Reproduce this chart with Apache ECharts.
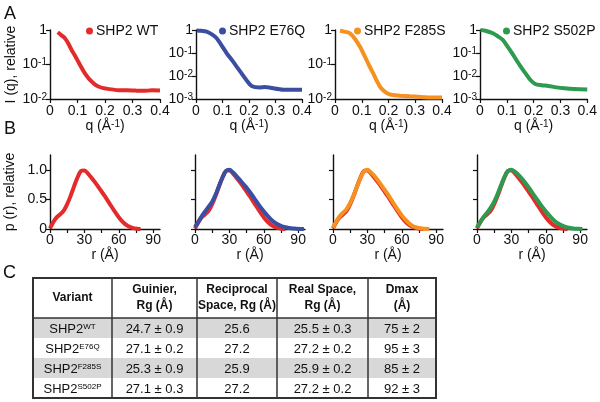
<!DOCTYPE html>
<html><head><meta charset="utf-8">
<script src="https://cdn.jsdelivr.net/npm/echarts@6/dist/echarts.min.js"></script>
<style>html,body{margin:0;padding:0;background:#fff}#c{width:600px;height:402px}</style>
</head><body><div id="c"></div>
<script>
// ---------- DATA ----------
const variantNames = ['SHP2 WT', 'SHP2 E76Q', 'SHP2 F285S', 'SHP2 S502P'];
const colors = ['#e42b2b', '#3b4ea2', '#f5911e', '#2d9a4f'];

// Panel A: scattering I(q), relative
const qWT = [0.028,0.04,0.055,0.067,0.079,0.091,0.103,0.115,0.127,0.14,0.152,0.164,0.176,0.19,0.205,0.224,0.25,0.28,0.31,0.34,0.37,0.40];
const iWT = [0.86,0.72,0.57,0.40,0.26,0.18,0.12,0.08,0.055,0.04,0.032,0.026,0.023,0.021,0.020,0.019,0.018,0.018,0.0175,0.0172,0.0178,0.0175];
const qE76Q = [0.003,0.02,0.04,0.06,0.078,0.097,0.116,0.135,0.154,0.172,0.19,0.21,0.24,0.26,0.28,0.31,0.33,0.36,0.40];
const iE76Q = [0.95,0.92,0.85,0.65,0.44,0.21,0.097,0.05,0.025,0.013,0.0067,0.0037,0.0032,0.0033,0.0031,0.0027,0.0025,0.0025,0.0025];
const qF285S = [0.019,0.035,0.056,0.075,0.093,0.106,0.118,0.13,0.143,0.155,0.168,0.18,0.193,0.215,0.243,0.28,0.32,0.36,0.40];
const iF285S = [0.95,0.9,0.8,0.55,0.33,0.21,0.135,0.086,0.055,0.035,0.023,0.018,0.015,0.013,0.0125,0.012,0.0115,0.011,0.011];
const qS502P = [0.002,0.02,0.048,0.067,0.085,0.103,0.12,0.138,0.157,0.172,0.188,0.206,0.23,0.255,0.285,0.315,0.35,0.40];
const iS502P = [1.0,0.93,0.72,0.53,0.37,0.19,0.097,0.045,0.021,0.012,0.0067,0.0045,0.004,0.0037,0.0032,0.0029,0.0027,0.0026];
const aYMin = [0.01, 0.001, 0.01, 0.001];
const qTicks = [0, 0.1, 0.2, 0.3, 0.4];

// Panel B: p(r), relative
const rWT = [0,3,6,9,12,15,18,21,24,27,30,33,36,40,44,48,52,56,60,64,68,72,76,79];
const pWT = [0.01,0.12,0.20,0.25,0.31,0.42,0.56,0.72,0.87,0.98,0.99,0.94,0.87,0.77,0.66,0.55,0.43,0.31,0.20,0.11,0.05,0.02,0.005,0];
const rE76Q = [0,3,6,9,12,15,18,21,24,27,30,33,36,40,44,48,52,56,60,64,68,72,76,80,84,88,92,95];
const pE76Q = [0.03,0.12,0.22,0.30,0.38,0.46,0.58,0.73,0.87,0.98,1.0,0.96,0.90,0.81,0.72,0.62,0.51,0.40,0.30,0.21,0.13,0.08,0.045,0.025,0.012,0.006,0.002,0];
const rF285S = [0,3,6,9,12,15,18,21,24,27,30,33,36,40,44,48,52,56,60,64,68,72,76,80,84];
const pF285S = [0.02,0.13,0.22,0.28,0.34,0.44,0.57,0.72,0.86,0.97,1.0,0.96,0.90,0.80,0.69,0.58,0.46,0.34,0.23,0.14,0.07,0.03,0.012,0.004,0];
const rS502P = [0,3,6,9,12,15,18,21,24,27,30,33,36,40,44,48,52,56,60,64,68,72,76,80,84,88,92];
const pS502P = [0.03,0.12,0.21,0.28,0.36,0.46,0.59,0.74,0.88,0.98,1.0,0.97,0.92,0.83,0.73,0.62,0.51,0.40,0.30,0.21,0.13,0.08,0.045,0.022,0.01,0.004,0];
const rTicks = [0, 15, 30, 45, 60, 75, 90];
const rLabels = [0, 30, 60, 90];
const pLabels = [0, 0.5, 1.0];

// Panel C: table
const tableHeaders = ['Variant', 'Guinier,\nRg (Å)', 'Reciprocal\nSpace, Rg (Å)', 'Real Space,\nRg (Å)', 'Dmax\n(Å)'];
const variantBase = ['SHP2', 'SHP2', 'SHP2', 'SHP2'];
const variantSup = ['WT', 'E76Q', 'F285S', 'S502P'];
const guinierRg = ['24.7 ± 0.9', '27.1 ± 0.2', '25.3 ± 0.9', '27.1 ± 0.3'];
const reciprocalRg = ['25.6', '27.2', '25.9', '27.2'];
const realSpaceRg = ['25.5 ± 0.3', '27.2 ± 0.2', '25.9 ± 0.2', '27.2 ± 0.2'];
const dmax = ['75 ± 2', '95 ± 3', '85 ± 2', '92 ± 3'];

// ---------- BUILD ----------
const FONT = 'Arial, "Liberation Sans", sans-serif';
const zip = (a, b) => a.map((v, i) => [v, b[i]]);
const aQ = [qWT, qE76Q, qF285S, qS502P];
const aI = [iWT, iE76Q, iF285S, iS502P];
const bR = [rWT, rE76Q, rF285S, rS502P];
const bP = [pWT, pE76Q, pF285S, pS502P];

const aLeft = [50, 196, 335, 480], aWidth = [110, 106, 107, 110];
const bLeft = [50, 195, 333, 477], bWidth = [110, 110, 110, 110];
const legendLeft = [86, 219, 354, 503];

const axisLine = { lineStyle: { color: '#111', width: 1.4 } };
const axisTick = { length: 4, lineStyle: { color: '#111', width: 1.2 } };
const supRich = { s: { fontSize: 10, verticalAlign: 'top', lineHeight: 12, fontFamily: FONT, color: '#111' },
                  n: { fontSize: 14, fontFamily: FONT, color: '#111' } };

const grid = [], xAxis = [], yAxis = [], series = [], legend = [];
for (let i = 0; i < 4; i++) {
  grid.push({ left: aLeft[i], top: 30, width: aWidth[i], height: 69 });
  xAxis.push({ type: 'value', gridIndex: i, min: 0, max: 0.4, interval: 0.1,
    axisLine, axisTick, splitLine: { show: false },
    axisLabel: { fontSize: 14, fontFamily: FONT, color: '#111', margin: 5,
      customValues: qTicks, formatter: v => String(+v.toFixed(1)) },
    name: '{n|q (Å}{s|-1}{n|)}', nameLocation: 'middle', nameGap: 14,
    nameTextStyle: { rich: supRich } });
  yAxis.push({ type: 'log', logBase: 10, gridIndex: i, min: aYMin[i], max: 1,
    axisLine: Object.assign({ show: true }, axisLine), axisTick: Object.assign({ show: true }, axisTick),
    splitLine: { show: false }, minorTick: { show: false },
    axisLabel: { fontSize: 14, fontFamily: FONT, color: '#111', margin: 3,
      formatter: v => { const e = Math.round(Math.log10(v)); return e === 0 ? '{n|1}' : '{n|10}{s|' + e + '}'; },
      rich: supRich },
    name: i === 0 ? 'I (q), relative' : '', nameLocation: 'middle', nameGap: 32,
    nameTextStyle: { fontSize: 14, fontFamily: FONT, color: '#111' } });
  series.push({ type: 'line', name: variantNames[i], xAxisIndex: i, yAxisIndex: i,
    data: zip(aQ[i], aI[i]), showSymbol: false, smooth: 0.3,
    lineStyle: { width: 4, color: colors[i] }, itemStyle: { color: colors[i] }, z: 3 });
  legend.push({ data: [variantNames[i]], left: legendLeft[i], top: 24, padding: 0,
    icon: 'circle', itemWidth: 7, itemHeight: 7,
    textStyle: { fontSize: 14, fontFamily: FONT, color: '#111', padding: [0, 0, 0, -2] } });
}
for (let i = 0; i < 4; i++) {
  const g = 4 + i;
  grid.push({ left: bLeft[i], top: 155, width: bWidth[i], height: 74 });
  xAxis.push({ type: 'value', gridIndex: g, min: 0, max: 96,
    axisLine, axisTick: Object.assign({ customValues: rTicks }, axisTick), splitLine: { show: false },
    axisLabel: { fontSize: 14, fontFamily: FONT, color: '#111', margin: 4, customValues: rLabels },
    name: 'r (Å)', nameLocation: 'middle', nameGap: 17,
    nameTextStyle: { fontSize: 14, fontFamily: FONT, color: '#111' } });
  yAxis.push({ type: 'value', gridIndex: g, min: 0, max: 1.25,
    axisLine: Object.assign({ show: true }, axisLine),
    axisTick: Object.assign({ show: true, customValues: pLabels }, axisTick),
    splitLine: { show: false },
    axisLabel: { show: i === 0, fontSize: 14, fontFamily: FONT, color: '#111', margin: 3,
      customValues: pLabels, formatter: v => v === 0 ? '0' : v.toFixed(1) },
    name: i === 0 ? 'p (r), relative' : '', nameLocation: 'middle', nameGap: 33,
    nameTextStyle: { fontSize: 14, fontFamily: FONT, color: '#111' } });
  if (i > 0) {
    series.push({ type: 'line', name: variantNames[0], xAxisIndex: g, yAxisIndex: g,
      data: zip(bR[0], bP[0]), showSymbol: false, smooth: 0.3,
      lineStyle: { width: 4, color: colors[0] }, z: 2 });
  }
  series.push({ type: 'line', name: variantNames[i], xAxisIndex: g, yAxisIndex: g,
    data: zip(bR[i], bP[i]), showSymbol: false, smooth: 0.3,
    lineStyle: { width: 4, color: colors[i] }, z: 3 });
}

// Table graphics
const cols = [33, 112, 197, 277, 368, 436];
const tTop = 278, hBottom = 318, rowH = 20;
const g = [];
const letter = (t, x, y) => ({ type: 'text', left: x, top: y, style: { text: t, fontSize: 18, fontFamily: FONT, fill: '#111' } });
g.push(letter('A', 4, 5), letter('B', 4, 120), letter('C', 3, 264));
for (let r = 0; r < 4; r++) {
  if (r % 2 === 0) g.push({ type: 'rect', shape: { x: cols[0], y: hBottom + r * rowH, width: cols[5] - cols[0], height: rowH },
    style: { fill: '#d8d8d8' }, z: 1 });
}
for (let c = 0; c < 5; c++) {
  const cx = (cols[c] + cols[c + 1]) / 2;
  g.push({ type: 'text', x: cx, y: (tTop + hBottom) / 2, z: 5,
    style: { text: tableHeaders[c], fontSize: 12, fontWeight: 'bold', fontFamily: FONT, fill: '#111',
      align: 'center', verticalAlign: 'middle', lineHeight: 16 } });
}
const colVals = [null, guinierRg, reciprocalRg, realSpaceRg, dmax];
for (let r = 0; r < 4; r++) {
  const cy = hBottom + r * rowH + rowH / 2 + 1;
  g.push({ type: 'text', x: (cols[0] + cols[1]) / 2, y: cy, z: 5,
    style: { text: '{b|' + variantBase[r] + '}{s|' + variantSup[r] + '}', align: 'center', verticalAlign: 'middle',
      rich: { b: { fontSize: 13, fontFamily: FONT, fill: '#111', color: '#111' },
              s: { fontSize: 8, fontFamily: FONT, verticalAlign: 'top', lineHeight: 10, color: '#111' } } } });
  for (let c = 1; c < 5; c++) {
    g.push({ type: 'text', x: (cols[c] + cols[c + 1]) / 2, y: cy, z: 5,
      style: { text: colVals[c][r], fontSize: 13, fontFamily: FONT, fill: '#111', align: 'center', verticalAlign: 'middle' } });
  }
}
for (let c = 1; c < 5; c++) {
  g.push({ type: 'line', shape: { x1: cols[c], y1: tTop, x2: cols[c], y2: hBottom + 4 * rowH }, z: 6,
    style: { stroke: '#333', lineWidth: 1.5 } });
}
g.push({ type: 'line', shape: { x1: cols[0], y1: hBottom, x2: cols[5], y2: hBottom }, z: 6, style: { stroke: '#333', lineWidth: 1.5 } });
g.push({ type: 'rect', shape: { x: cols[0], y: tTop, width: cols[5] - cols[0], height: hBottom + 4 * rowH - tTop }, z: 7,
  style: { fill: 'none', stroke: '#333', lineWidth: 2 } });

const chart = echarts.init(document.getElementById('c'), null, { renderer: 'canvas' });
chart.setOption({ animation: false, backgroundColor: '#fff', textStyle: { fontFamily: FONT },
  grid, xAxis, yAxis, series, legend, graphic: g });
</script></body></html>
